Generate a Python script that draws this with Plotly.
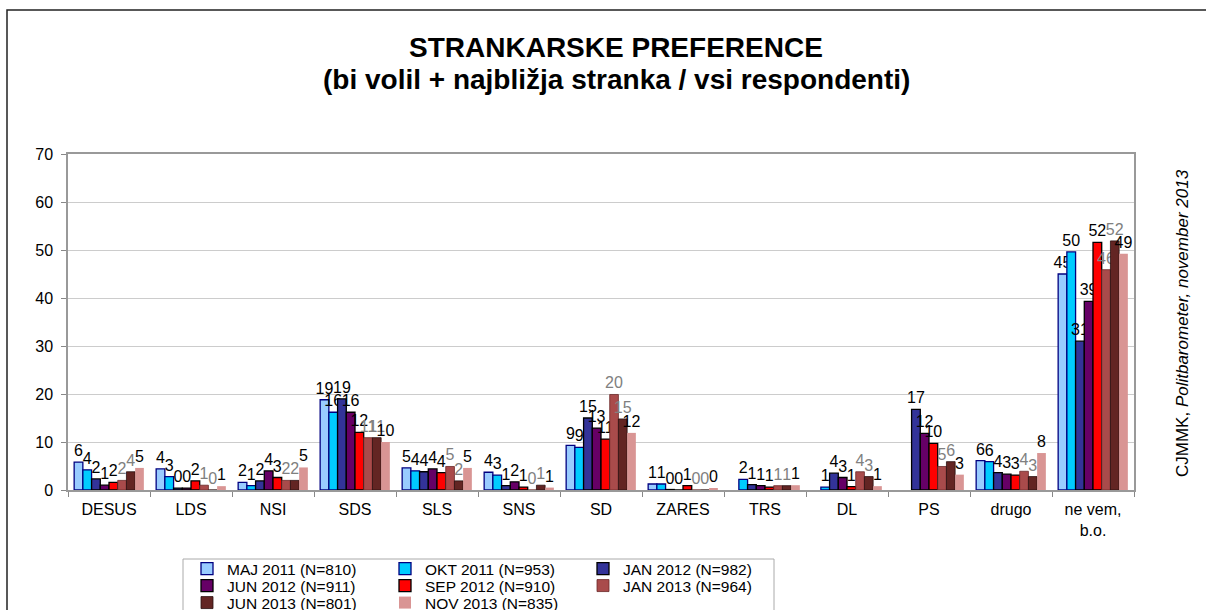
import plotly.graph_objects as go

categories = ["DESUS", "LDS", "NSI", "SDS", "SLS", "SNS", "SD", "ZARES", "TRS", "DL", "PS", "drugo", "ne vem,<br>b.o."]

series_names = ["MAJ 2011 (N=810)", "OKT 2011 (N=953)", "JAN 2012 (N=982)",
                "JUN 2012 (N=911)", "SEP 2012 (N=910)", "JAN 2013 (N=964)",
                "JUN 2013 (N=801)", "NOV 2013 (N=835)"]

maj_2011 = [5.8, 4.4, 1.6, 18.8, 4.6, 3.7, 9.3, 1.25, None, None, None, 6.1, 45.0]
okt_2011 = [4.2, 2.8, 0.9, 16.2, 4.0, 3.1, 8.9, 1.25, 2.2, 0.6, None, 5.9, 49.6]
jan_2012 = [2.3, 0.4, 1.9, 19.0, 3.8, 0.9, 15.0, 0.1, 1.1, 3.5, 16.8, 3.6, 31.0]
jun_2012 = [1.0, 0.4, 4.0, 16.2, 4.4, 1.7, 12.9, 0.0, 0.9, 2.6, 11.8, 3.3, 39.3]
sep_2012 = [1.6, 1.9, 2.6, 12.0, 3.6, 0.6, 10.6, 0.9, 0.6, 0.7, 9.7, 3.1, 51.6]
jan_2013 = [2.0, 1.0, 2.0, 10.9, 4.9, 0.0, 19.9, 0.0, 0.9, 3.8, 4.9, 3.9, 45.9]
jun_2013 = [3.8, 0.0, 2.0, 10.9, 1.9, 1.0, 14.8, 0.0, 0.9, 2.8, 5.9, 2.8, 51.9]
nov_2013 = [4.6, 0.8, 4.7, 10.0, 4.6, 0.5, 11.9, 0.3, 1.0, 0.8, 3.2, 7.7, 49.2]

series_values = [maj_2011, okt_2011, jan_2012, jun_2012, sep_2012, jan_2013, jun_2013, nov_2013]

fills = ["#99CCFF", "#00CCFF", "#333399", "#660066", "#FF0000", "#A94B4B", "#632523", "#D99594"]
borders = ["#000080", "#000080", "#000000", "#000000", "#000000", "#6b2a2a", "#2a0f0f", "#D99594"]
border_w = [1.3, 1.3, 1.3, 1.3, 1.3, 0.8, 0.8, 0]
label_colors = ["#000000", "#000000", "#000000", "#000000", "#000000", "#808080", "#808080", "#000000"]
legend_ids = ["legend", "legend", "legend", "legend2", "legend2", "legend2", "legend3", "legend3"]

FONT = "Liberation Sans, Arial, sans-serif"

fig = go.Figure()
for i, name in enumerate(series_names):
    fig.add_trace(go.Bar(
        x=categories, y=series_values[i], name=name,
        marker=dict(color=fills[i], line=dict(color=borders[i], width=border_w[i])),
        texttemplate="%{y:.0f}", textposition="outside", textangle=0,
        constraintext="none", cliponaxis=False,
        textfont=dict(family=FONT, size=16, color=label_colors[i]),
        legend=legend_ids[i],
    ))

W, H = 1206, 610
L, R, T, B = 68, 72, 154, 120
pw, ph = W - L - R, H - T - B

def px_x(px):
    return (px - L) / pw

def px_y(py):
    return (H - B - py) / ph

leg_common = dict(orientation="h", yanchor="middle", xanchor="left",
                  font=dict(family=FONT, size=15.5, color="#000000"),
                  bgcolor="rgba(0,0,0,0)", borderwidth=0, itemwidth=30,
                  entrywidth=153, entrywidthmode="pixels", tracegroupgap=0)

fig.update_layout(
    width=W, height=H,
    margin=dict(l=L, r=R, t=T, b=B, autoexpand=False),
    paper_bgcolor="white", plot_bgcolor="white",
    barmode="group", bargap=0.15, bargroupgap=0,
    font=dict(family=FONT, size=16, color="#000000"),
    legend=dict(x=px_x(187), y=px_y(569), **leg_common),
    legend2=dict(x=px_x(187), y=px_y(586), **leg_common),
    legend3=dict(x=px_x(187), y=px_y(603), **leg_common),
    xaxis=dict(type="category", showgrid=False, ticks="outside", tickson="boundaries",
               ticklen=5, tickcolor="#888888", showline=True, linecolor="#999999",
               linewidth=1.5, mirror=True, ticklabelstandoff=4,
               tickfont=dict(family=FONT, size=16)),
    yaxis=dict(range=[0, 70], dtick=10, showgrid=True, gridcolor="#cccccc", gridwidth=1,
               ticks="outside", ticklen=5, tickcolor="#888888", showline=True,
               linecolor="#999999", linewidth=1.5, mirror=True, zeroline=False,
               ticklabelstandoff=5, tickfont=dict(family=FONT, size=16)),
    showlegend=True,
)

# outer chart border
fig.add_shape(type="rect", xref="paper", yref="paper",
              x0=px_x(7), x1=px_x(1225), y0=px_y(650), y1=px_y(10),
              line=dict(color="#222222", width=1.5), layer="below")
# legend box
fig.add_shape(type="rect", xref="paper", yref="paper",
              x0=px_x(183), x1=px_x(774), y0=px_y(650), y1=px_y(559),
              line=dict(color="#aaaaaa", width=1), layer="below")

fig.add_annotation(
    text="<b>STRANKARSKE PREFERENCE</b>",
    xref="paper", yref="paper", x=px_x(616), y=px_y(47), xanchor="center", yanchor="middle",
    showarrow=False, font=dict(family=FONT, size=28, color="#000000"))
fig.add_annotation(
    text="<b>(bi volil + najbližja stranka / vsi respondenti)</b>",
    xref="paper", yref="paper", x=px_x(616), y=px_y(80), xanchor="center", yanchor="middle",
    showarrow=False, font=dict(family=FONT, size=28, color="#000000"))

fig.add_annotation(
    text="CJMMK, <i>Politbarometer, november 2013</i>",
    xref="paper", yref="paper", x=px_x(1182), y=px_y(323), xanchor="center", yanchor="middle",
    textangle=-90, showarrow=False, font=dict(family=FONT, size=17, color="#000000"))

fig.write_html(
    "out.html",
    config={"displayModeBar": False},
    post_script="document.body.style.margin='0';document.body.style.overflow='hidden';",
)
